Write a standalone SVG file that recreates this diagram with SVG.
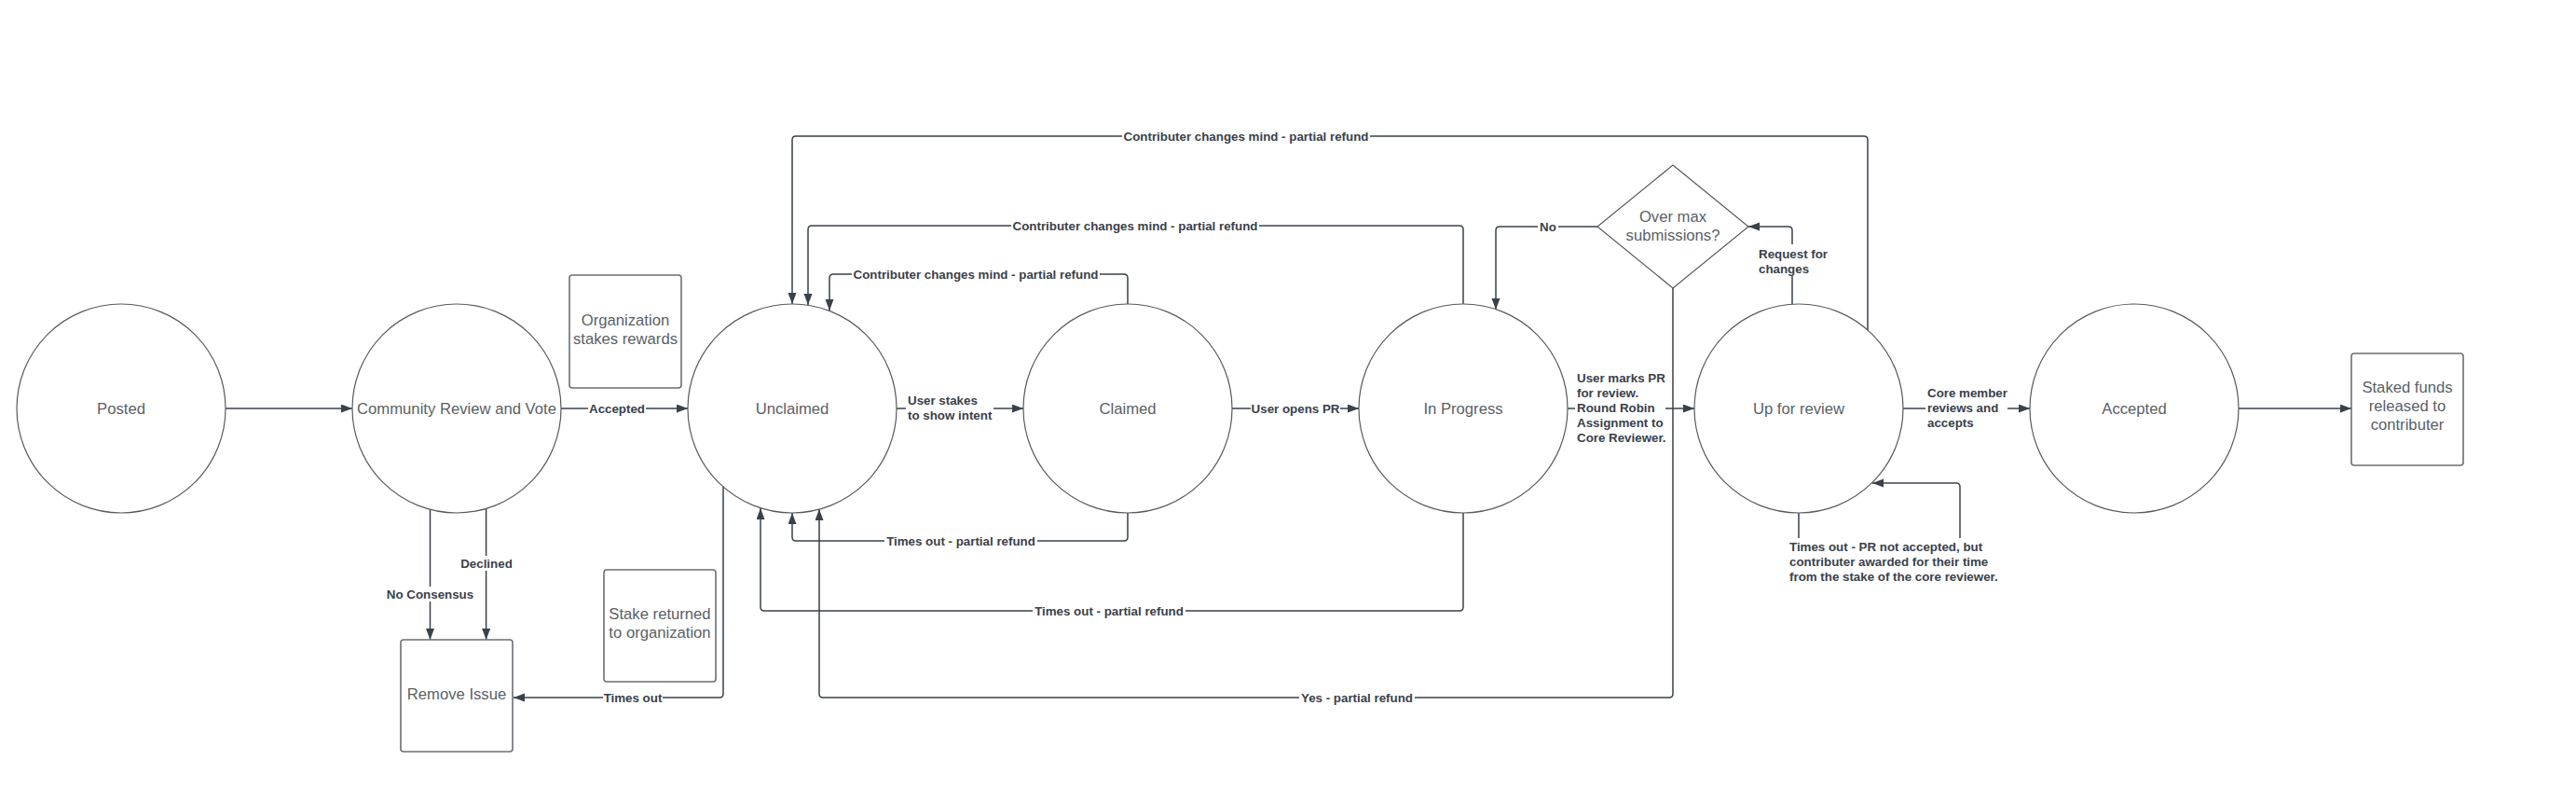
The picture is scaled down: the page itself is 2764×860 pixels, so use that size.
<svg xmlns="http://www.w3.org/2000/svg" width="2764" height="860" viewBox="0 0 2764 860">
<style>
.node{fill:#ffffff;stroke:#5a5a5a;stroke-width:1.2}
.box{fill:#ffffff;stroke:#6b6e73;stroke-width:1.6}
.nt{font-family:"Liberation Sans",Arial,sans-serif;font-size:16.67px;fill:#5a5f66;text-anchor:middle;dominant-baseline:central}
.ln{fill:none;stroke:#3a414a;stroke-width:1.5}
.lb{font-family:"Liberation Sans",Arial,sans-serif;font-size:13.33px;font-weight:bold;fill:#3a414a;dominant-baseline:central}
.c{text-anchor:middle}
.bg{fill:#ffffff}
</style>
<defs>
<marker id="arr" markerUnits="userSpaceOnUse" markerWidth="13" markerHeight="10" refX="12" refY="4.5" orient="auto">
<path d="M0,0 L12,4.5 L0,9 Z" fill="#3a414a"/>
</marker>
</defs>
<rect width="2764" height="860" fill="#ffffff"/>

<g id="connectors">
<path class="ln" marker-end="url(#arr)" d="M242,438 H378"/>
<path class="ln" marker-end="url(#arr)" d="M602,438 H738"/>
<path class="ln" marker-end="url(#arr)" d="M461.5,546 V686"/>
<path class="ln" marker-end="url(#arr)" d="M521.6,545 V686"/>
<path class="ln" marker-end="url(#arr)" d="M776,522 V744 Q776,748 772,748 H551"/>
<path class="ln" marker-end="url(#arr)" d="M962,438 H1098"/>
<path class="ln" marker-end="url(#arr)" d="M1322,438 H1458"/>
<path class="ln" marker-end="url(#arr)" d="M1682,438 H1818"/>
<path class="ln" marker-end="url(#arr)" d="M2042,438 H2178"/>
<path class="ln" marker-end="url(#arr)" d="M2402,438 H2523"/>
<path class="ln" marker-end="url(#arr)" d="M1210,326 V298 Q1210,294 1206,294 H894 Q890,294 890,298 V333"/>
<path class="ln" marker-end="url(#arr)" d="M1570,326 V246 Q1570,242 1566,242 H871 Q867,242 867,246 V327"/>
<path class="ln" marker-end="url(#arr)" d="M2004,354 V150 Q2004,146 2000,146 H854 Q850,146 850,150 V326"/>
<path class="ln" marker-end="url(#arr)" d="M1210,550 V576 Q1210,580 1206,580 H854 Q850,580 850,576 V550"/>
<path class="ln" marker-end="url(#arr)" d="M1570,550 V651 Q1570,655 1566,655 H820 Q816,655 816,651 V545"/>
<path class="ln" marker-end="url(#arr)" d="M1795,309 V744 Q1795,748 1791,748 H883 Q879,748 879,744 V546"/>
<path class="ln" marker-end="url(#arr)" d="M1714,243 H1609 Q1605,243 1605,247 V332"/>
<path class="ln" marker-end="url(#arr)" d="M1923,326 V247 Q1923,243 1919,243 H1876"/>
<path class="ln" marker-end="url(#arr)" d="M1930,550 V602 H2103 V522 Q2103,518 2099,518 H2009"/>

<rect class="bg" x="631" y="430" width="62" height="16"/>
<text class="lb c" x="662" y="438">Accepted</text>
<rect class="bg" x="418" y="629" width="87" height="16"/>
<text class="lb c" x="461.5" y="637">No Consensus</text>
<rect class="bg" x="492" y="596" width="60" height="16"/>
<text class="lb c" x="522" y="604">Declined</text>
<rect class="bg" x="647" y="740" width="64" height="16"/>
<text class="lb c" x="679" y="748">Times out</text>
<rect class="bg" x="972" y="420" width="94" height="34"/>
<text class="lb" x="974" y="429">User stakes<tspan x="974" dy="16">to show intent</tspan></text>
<rect class="bg" x="1342" y="430" width="96" height="16"/>
<text class="lb c" x="1390" y="438">User opens PR</text>
<rect class="bg" x="1690" y="396" width="97" height="82"/>
<text class="lb" x="1692" y="405">User marks PR<tspan x="1692" dy="16">for review.</tspan><tspan x="1692" dy="16">Round Robin</tspan><tspan x="1692" dy="16">Assignment to</tspan><tspan x="1692" dy="16">Core Reviewer.</tspan></text>
<rect class="bg" x="2066" y="411" width="88" height="50"/>
<text class="lb" x="2068" y="421">Core member<tspan x="2068" dy="16">reviews and</tspan><tspan x="2068" dy="16">accepts</tspan></text>
<rect class="bg" x="914" y="286" width="266" height="16"/>
<text class="lb c" x="1047" y="294">Contributer changes mind - partial refund</text>
<rect class="bg" x="1085" y="234" width="266" height="16"/>
<text class="lb c" x="1218" y="242">Contributer changes mind - partial refund</text>
<rect class="bg" x="1204" y="138" width="266" height="16"/>
<text class="lb c" x="1337" y="146">Contributer changes mind - partial refund</text>
<rect class="bg" x="949" y="572" width="164" height="16"/>
<text class="lb c" x="1031" y="580">Times out - partial refund</text>
<rect class="bg" x="1108" y="647" width="164" height="16"/>
<text class="lb c" x="1190" y="655">Times out - partial refund</text>
<rect class="bg" x="1394" y="740" width="124" height="16"/>
<text class="lb c" x="1456" y="748">Yes - partial refund</text>
<rect class="bg" x="1650" y="235" width="22" height="16"/>
<text class="lb c" x="1661" y="243">No</text>
<rect class="bg" x="1885" y="262" width="80" height="34"/>
<text class="lb" x="1887" y="272">Request for<tspan x="1887" dy="16">changes</tspan></text>
<rect class="bg" x="1917" y="577" width="228" height="50"/>
<text class="lb" x="1920" y="586">Times out - PR not accepted, but<tspan x="1920" dy="16">contributer awarded for their time</tspan><tspan x="1920" dy="16">from the stake of the core reviewer.</tspan></text>
</g>

<g id="posted"><circle class="node" cx="130" cy="438" r="112"/><text class="nt" x="130" y="438">Posted</text></g>
<g id="community-review"><circle class="node" cx="490" cy="438" r="112"/><text class="nt" x="490" y="438">Community Review and Vote</text></g>
<g id="unclaimed"><circle class="node" cx="850" cy="438" r="112"/><text class="nt" x="850" y="438">Unclaimed</text></g>
<g id="claimed"><circle class="node" cx="1210" cy="438" r="112"/><text class="nt" x="1210" y="438">Claimed</text></g>
<g id="in-progress"><circle class="node" cx="1570" cy="438" r="112"/><text class="nt" x="1570" y="438">In Progress</text></g>
<g id="up-for-review"><circle class="node" cx="1930" cy="438" r="112"/><text class="nt" x="1930" y="438">Up for review</text></g>
<g id="accepted"><circle class="node" cx="2290" cy="438" r="112"/><text class="nt" x="2290" y="438">Accepted</text></g>
<g id="over-max"><path class="node" d="M1795,177 L1876,243 L1795,309 L1714,243 Z"/><text class="nt" x="1795" y="232">Over max<tspan x="1795" dy="20">submissions?</tspan></text></g>
<g id="org-stakes"><rect class="box" x="611" y="295" width="120" height="121" rx="3"/><text class="nt" x="671" y="343">Organization<tspan x="671" dy="20">stakes rewards</tspan></text></g>
<g id="stake-returned"><rect class="box" x="648" y="611" width="120" height="120" rx="3"/><text class="nt" x="708" y="658">Stake returned<tspan x="708" dy="20">to organization</tspan></text></g>
<g id="remove-issue"><rect class="box" x="430" y="686" width="120" height="120" rx="3"/><text class="nt" x="490" y="744">Remove Issue</text></g>
<g id="staked-funds"><rect class="box" x="2523" y="379" width="120" height="120" rx="3"/><text class="nt" x="2583" y="415">Staked funds<tspan x="2583" dy="20">released to</tspan><tspan x="2583" dy="20">contributer</tspan></text></g>
</svg>
